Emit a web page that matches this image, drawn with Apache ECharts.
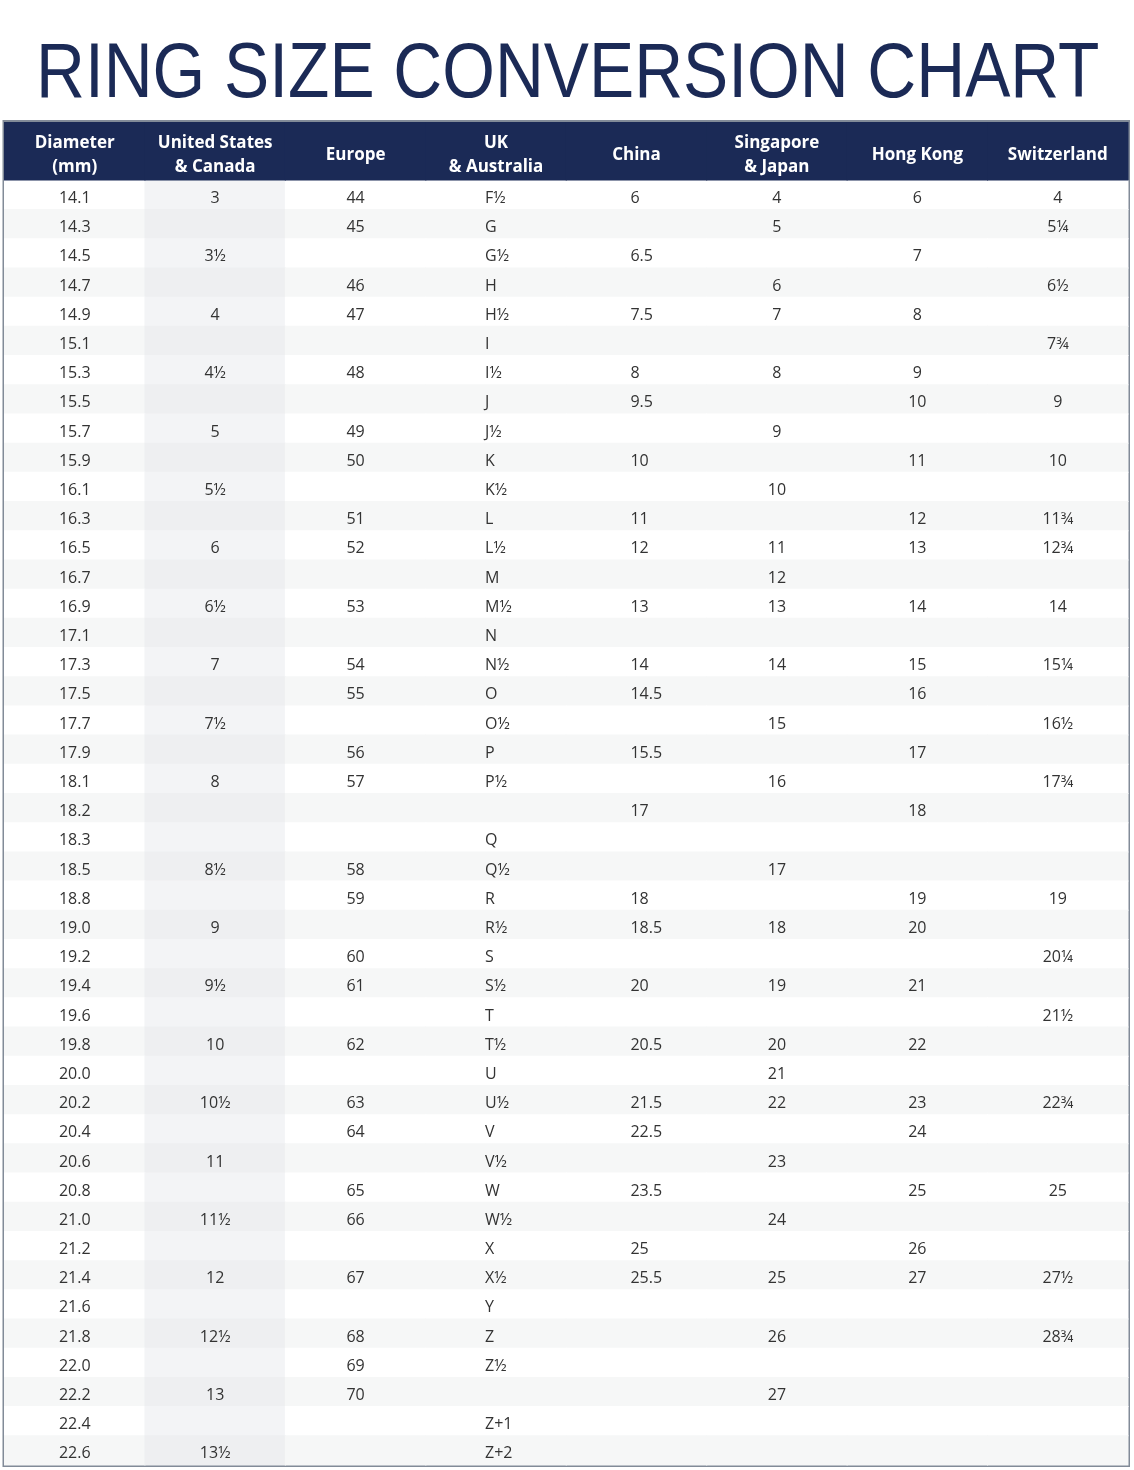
<!DOCTYPE html>
<html><head><meta charset="utf-8">
<script src="https://cdn.jsdelivr.net/npm/echarts@6/dist/echarts.min.js"></script>
<style>html,body{margin:0;padding:0;background:#fff}#c{width:1134px;height:1470px}</style>
</head><body><div id="c"></div>
<script>
const chartTitle = 'RING SIZE CONVERSION CHART';
const headers = ['Diameter\n(mm)', 'United States\n& Canada', 'Europe', 'UK\n& Australia', 'China', 'Singapore\n& Japan', 'Hong Kong', 'Switzerland'];

const diameter = ['14.1','14.3','14.5','14.7','14.9','15.1','15.3','15.5','15.7','15.9','16.1','16.3','16.5','16.7','16.9','17.1','17.3','17.5','17.7','17.9','18.1','18.2','18.3','18.5','18.8','19.0','19.2','19.4','19.6','19.8','20.0','20.2','20.4','20.6','20.8','21.0','21.2','21.4','21.6','21.8','22.0','22.2','22.4','22.6'];
const usCanada = ['3','','3½','','4','','4½','','5','','5½','','6','','6½','','7','','7½','','8','','','8½','','9','','9½','','10','','10½','','11','','11½','','12','','12½','','13','','13½'];
const europe = ['44','45','','46','47','','48','','49','50','','51','52','','53','','54','55','','56','57','','','58','59','','60','61','','62','','63','64','','65','66','','67','','68','69','70','',''];
const ukAustralia = ['F½','G','G½','H','H½','I','I½','J','J½','K','K½','L','L½','M','M½','N','N½','O','O½','P','P½','','Q','Q½','R','R½','S','S½','T','T½','U','U½','V','V½','W','W½','X','X½','Y','Z','Z½','','Z+1','Z+2'];
const china = ['6','','6.5','','7.5','','8','9.5','','10','','11','12','','13','','14','14.5','','15.5','','17','','','18','18.5','','20','','20.5','','21.5','22.5','','23.5','','25','25.5','','','','','',''];
const singaporeJapan = ['4','5','','6','7','','8','','9','','10','','11','12','13','','14','','15','','16','','','17','','18','','19','','20','21','22','','23','','24','','25','','26','','27','',''];
const hongKong = ['6','','7','','8','','9','10','','11','','12','13','','14','','15','16','','17','','18','','','19','20','','21','','22','','23','24','','25','','26','27','','','','','',''];
const switzerland = ['4','5¼','','6½','','7¾','','9','','10','','11¾','12¾','','14','','15¼','','16½','','17¾','','','','19','','20¼','','21½','','','22¾','','','25','','','27½','','28¾','','','',''];

const columns = [diameter, usCanada, europe, ukAustralia, china, singaporeJapan, hongKong, switzerland];
const HEADER_SLOTS = 2;
const yCats = ['', ' '].concat(diameter);
const xCats = headers;

const headerData = headers.map((h, j) => [j, 0]);
const bodyData = [];
for (let r = 0; r < diameter.length; r++) {
  for (let j = 0; j < columns.length; j++) bodyData.push([j, r + HEADER_SLOTS]);
}

const NAVY = '#1b2a56';
const FONT = '"Open Sans", "Noto Sans", sans-serif';

function renderHeader(params, api) {
  const j = api.value(0);
  const c0 = api.coord([j, 0]);
  const c1 = api.coord([j, 1]);
  const s = api.size([1, 1]);
  const x0 = c0[0] - s[0] / 2;
  const y0 = c0[1] - s[1] / 2;
  return {
    type: 'group',
    children: [
      { type: 'rect', shape: { x: x0 - 0.5, y: y0, width: s[0] + 1, height: s[1] * 2 }, style: { fill: NAVY } },
      { type: 'text', x: c0[0], y: (c0[1] + c1[1]) / 2 + 3.5,
        style: { text: headers[j], fill: '#ffffff', font: 'bold 17px ' + FONT, align: 'center', verticalAlign: 'middle', lineHeight: 24 } }
    ]
  };
}

function renderBody(params, api) {
  const j = api.value(0), r = api.value(1);
  const c = api.coord([j, r]);
  const s = api.size([1, 1]);
  const row = r - HEADER_SLOTS;
  const gray = row % 2 === 1;
  let fill = gray ? '#f6f7f7' : '#ffffff';
  if (j === 1) fill = gray ? '#eeeff1' : '#f3f4f6';
  const label = columns[j][row];
  let tx = c[0], align = 'center';
  if (j === 3) { tx = c[0] - 11; align = 'left'; }
  if (j === 4) { tx = c[0] - 6; align = 'left'; }
  return {
    type: 'group',
    children: [
      { type: 'rect', shape: { x: c[0] - s[0] / 2 - 0.5, y: c[1] - s[1] / 2 - 0.5, width: s[0] + 1, height: s[1] + 1 }, style: { fill } },
      { type: 'text', x: tx, y: c[1] + 3.5,
        style: { text: label, fill: '#333333', font: '16px ' + FONT, align, verticalAlign: 'middle' } }
    ]
  };
}

const chart = echarts.init(document.getElementById('c'), null, { renderer: 'canvas' });
chart.setOption({
  backgroundColor: '#ffffff',
  animation: false,
  grid: { left: 4.5, right: 6, top: 122, bottom: 5, show: true, borderColor: '#828b98', borderWidth: 4, backgroundColor: '#ffffff' },
  xAxis: { type: 'category', data: xCats, show: false, boundaryGap: true },
  yAxis: { type: 'category', data: yCats, inverse: true, show: false, boundaryGap: true },
  graphic: [
    { type: 'text', x: 36, y: 75, scaleX: 0.868, scaleY: 1,
      style: { text: chartTitle, fill: NAVY, font: '78px "Liberation Sans", Arial, sans-serif', align: 'left', verticalAlign: 'middle' } }
  ],
  series: [
    { type: 'custom', renderItem: renderBody, data: bodyData, silent: true, clip: false },
    { type: 'custom', renderItem: renderHeader, data: headerData, silent: true, clip: false }
  ]
});
</script>
</body></html>
